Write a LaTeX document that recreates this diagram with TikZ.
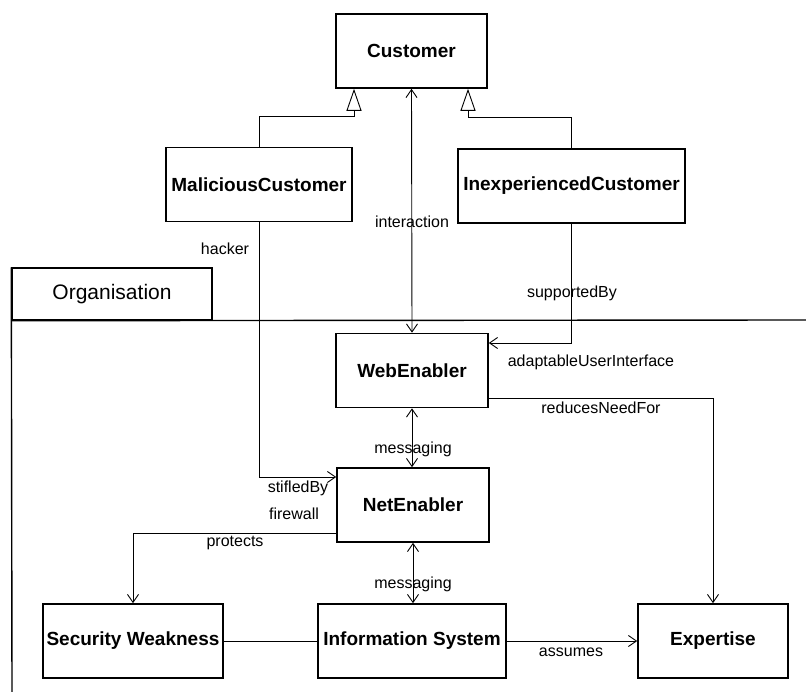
\documentclass[tikz,border=0pt]{standalone}
\usepackage{fontspec}
\setmainfont{Liberation Sans}
\usepackage{tikz}
\usetikzlibrary{arrows.meta, positioning}

\begin{document}
\begin{tikzpicture}[
  x=1pt, y=-1pt,
  cls/.style={rectangle, draw, line width=1.6pt, inner sep=0pt,
              minimum height=74pt, align=center,
              font=\fontsize{19}{23}\selectfont\bfseries},
  lbl/.style={inner sep=0pt, font=\fontsize{16}{19}\selectfont},
  tab/.style={rectangle, draw, line width=1.4pt, inner sep=0pt,
              minimum width=200pt, minimum height=52pt,
              font=\fontsize{21}{25}\selectfont},
  conn/.style={line width=0.9pt},
  arr/.style={conn, -{Straight Barb[length=8pt, width=11pt]}},
  twoway/.style={conn, {Straight Barb[length=8pt, width=11pt]}-{Straight Barb[length=8pt, width=11pt]}},
  gen/.style={conn, -{Triangle[open, length=22pt, width=15pt]}},
]
\useasboundingbox (0,0) rectangle (806,692);

% customers
\node[cls, minimum width=151pt] (cust) at (411.5,51) {Customer};
\node[cls, minimum width=186pt] (mal) at (259,184.5) {MaliciousCustomer};
\node[cls, minimum width=227pt] (inex) at (571.5,186) {InexperiencedCustomer};
\draw[gen] (mal.north) -- ++(0,-30) -| ([xshift=-57.5pt]cust.south);
\draw[gen] (inex.north) -- ++(0,-31) -| ([xshift=56.5pt]cust.south);

% package frame
\node[tab] (org) at (112,294) {Organisation};
\coordinate (frameR) at (806,320);
\coordinate (frameB) at (12,692);
\draw[line width=1.4pt] (org.south west) -- (frameR);
\draw[line width=1.4pt] (org.north west) -- (frameB);

% inside the organisation
\node[cls, minimum width=152pt] (web) at (412,370.5) {WebEnabler};
\node[cls, minimum width=152pt] (net) at (413,505) {NetEnabler};
\node[cls, minimum width=180pt] (sec) at (133,641) {Security Weakness};
\node[cls, minimum width=188pt] (info) at (412,641) {Information System};
\node[cls, minimum width=150pt] (exp) at (713,641) {Expertise};

% connectors
\draw[twoway] (cust.south) -- (web.north);
\node[lbl] (lint) at (412,222) {interaction};

\draw[arr] (inex.south) |- ([yshift=27.5pt]web.east);
\node[lbl] (lsup) at (572,293) {supportedBy};
\node[lbl] (ladapt) at (591,362) {adaptableUserInterface};

\draw[arr] ([yshift=-27.5pt]web.east) -| (exp.north);
\node[lbl] (lred) at (601,408) {reducesNeedFor};

\draw[twoway] (web.south) -- (web.south |- net.north);
\node[lbl] (lmsg1) at (413,449) {messaging};

\draw[arr] (mal.south) |- ([yshift=28pt]net.west);
\node[lbl] (lhack) at (225,249) {hacker};
\node[lbl] (lstif) at (298,488) {stifledBy};
\node[lbl] (lfire) at (294,514) {firewall};

\draw[arr] ([yshift=-28pt]net.west) -| (sec.north);
\node[lbl] (lprot) at (235,543) {protects};

\draw[twoway] (net.south) -- (net.south |- info.north);
\node[lbl] (lmsg2) at (413,584) {messaging};

\draw[conn] (sec.east) -- (info.west);
\draw[arr] (info.east) -- (exp.west);
\node[lbl] (lass) at (571,652) {assumes};

\end{tikzpicture}
\end{document}
